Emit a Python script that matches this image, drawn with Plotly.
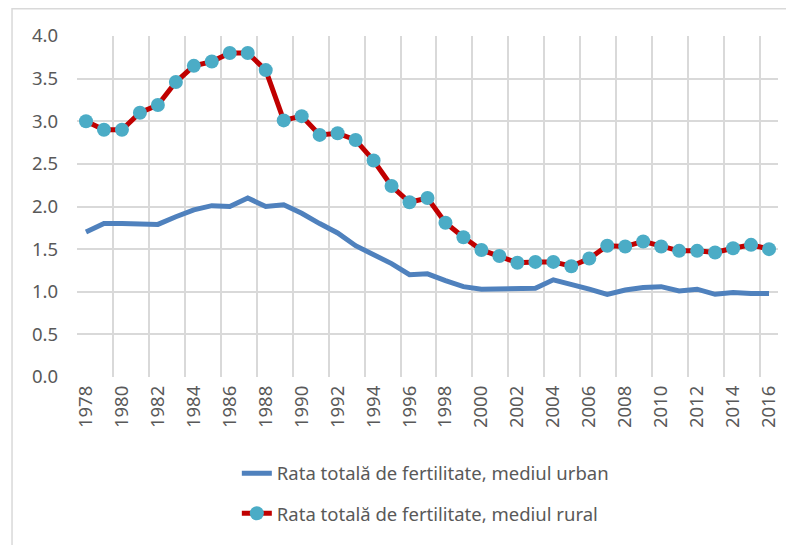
import plotly.graph_objects as go

# years on the category axis
years = list(range(1978, 2017))

# total fertility rate, urban areas
urban = [1.70, 1.80, 1.80, 1.80, 1.79, 1.88, 1.96, 2.01, 2.00, 2.10,
         2.00, 2.02, 1.92, 1.80, 1.69, 1.54, 1.44, 1.33, 1.20, 1.21,
         1.13, 1.06, 1.03, 1.03, 1.04, 1.04, 1.14, 1.09, 1.03, 0.97,
         1.02, 1.05, 1.06, 1.01, 1.03, 0.97, 0.99, 0.98, 0.98]

# total fertility rate, rural areas
rural = [3.00, 2.90, 2.90, 3.10, 3.19, 3.46, 3.65, 3.70, 3.80, 3.80,
         3.60, 3.01, 3.06, 2.84, 2.86, 2.78, 2.54, 2.24, 2.05, 2.10,
         1.81, 1.64, 1.49, 1.42, 1.34, 1.35, 1.35, 1.30, 1.39, 1.54,
         1.53, 1.59, 1.53, 1.48, 1.48, 1.46, 1.51, 1.55, 1.50]

names = ["Rata totală de fertilitate, mediul urban",
         "Rata totală de fertilitate, mediul rural"]

tickYears = years[::2]
tickLabels = [str(y) for y in tickYears]

GRID = "#d9d9d9"
TEXT = "#595959"
FONT = "Noto Sans"

fig = go.Figure()
fig.add_trace(go.Scatter(x=years, y=urban, name=names[0], mode="lines",
                         line=dict(color="#4f81bd", width=5),
                         legendgroup="a"))
fig.add_trace(go.Scatter(x=years, y=rural, name=names[1], mode="lines+markers",
                         line=dict(color="#c00000", width=5),
                         marker=dict(color="#4bacc6", size=14),
                         legendgroup="b"))

# the page body has an 8px margin, so the figure is drawn 8px smaller
fig.update_layout(
    width=786, height=537,
    margin=dict(l=69, r=16, t=28, b=166),
    paper_bgcolor="white", plot_bgcolor="white",
    font=dict(family=FONT, size=18.5, color=TEXT),
    showlegend=True,
    legend=dict(orientation="v", x=0.228, y=-0.228, xanchor="left", yanchor="top",
                traceorder="grouped", tracegroupgap=13,
                font=dict(family=FONT, size=18.5, color=TEXT)),
    xaxis=dict(range=[1977.5, 2016.5], tickmode="array", tickvals=tickYears,
               ticktext=tickLabels, tickangle=-90, showgrid=False,
               zeroline=False, ticks="", ticklabelstandoff=4,
               minor=dict(tickmode="linear", tick0=1977.5, dtick=2,
                          showgrid=True, gridcolor=GRID, gridwidth=1.5)),
    yaxis=dict(range=[0, 4], dtick=0.5, tickformat=".1f", showgrid=True,
               gridcolor=GRID, gridwidth=1.5, zeroline=False, ticks="",
               ticklabelstandoff=18),
    shapes=[dict(type="path", xref="paper", yref="paper",
                 path="M -0.0927,-0.7 L -0.0927,1.080 L 1.05,1.080",
                 line=dict(color=GRID, width=1.5))],
)

fig.write_html("out.html")
